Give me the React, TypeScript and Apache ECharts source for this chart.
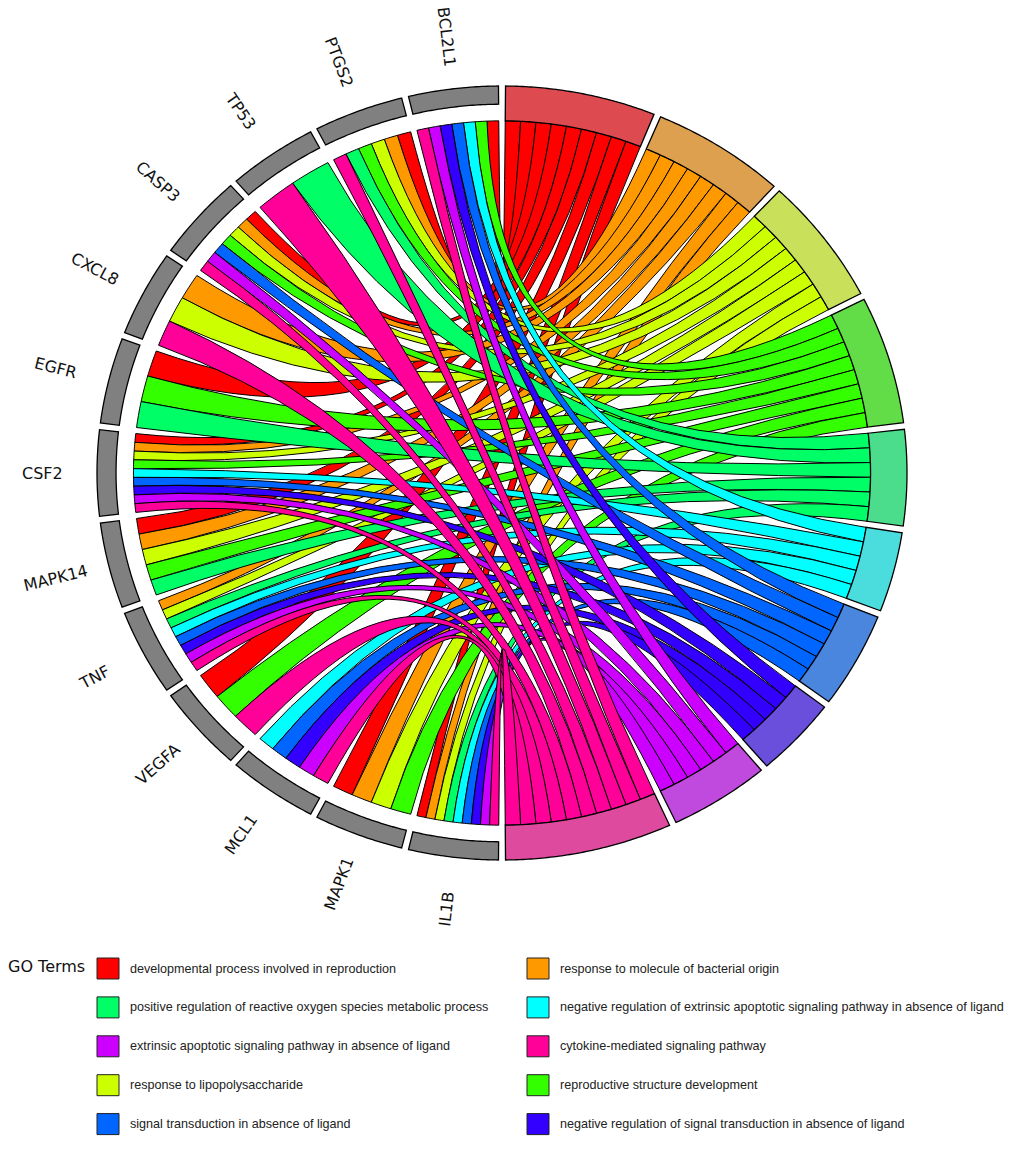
import React, { useEffect, useRef } from "react";
import * as echarts from "echarts";

// ---------------- data ----------------
const genes = ["BCL2L1", "PTGS2", "TP53", "CASP3", "CXCL8", "EGFR", "CSF2", "MAPK14", "TNF", "VEGFA", "MCL1", "MAPK1", "IL1B"];

const terms = [
  "developmental process involved in reproduction",
  "response to molecule of bacterial origin",
  "response to lipopolysaccharide",
  "reproductive structure development",
  "positive regulation of reactive oxygen species metabolic process",
  "negative regulation of extrinsic apoptotic signaling pathway in absence of ligand",
  "signal transduction in absence of ligand",
  "negative regulation of signal transduction in absence of ligand",
  "extrinsic apoptotic signaling pathway in absence of ligand",
  "cytokine-mediated signaling pathway",
];

const ribbonColors = ["#FF0000", "#FF9900", "#CCFF00", "#33FF00", "#00FF66", "#00FFFF", "#0066FF", "#3300FF", "#CC00FF", "#FF0099"];
const termBarColors = ["#DD4A50", "#DDA04E", "#C8E05A", "#62DD48", "#4BDD8C", "#4BDDDD", "#4A86DD", "#6A4FDD", "#C04ADD", "#DD4A9E"];
const geneBarColor = "#808080";

// membership per term, in gene order above (1 = gene annotated to term)
const devReproduction = [1, 1, 0, 1, 0, 1, 1, 1, 0, 1, 0, 1, 1];
const bacterialOrigin = [0, 1, 0, 1, 1, 0, 1, 1, 1, 0, 0, 1, 1];
const lipopolysaccharide = [0, 1, 0, 1, 1, 0, 1, 1, 1, 0, 0, 1, 1];
const reproStructure = [1, 1, 0, 1, 0, 1, 1, 1, 0, 1, 0, 1, 0];
const rosRegulation = [0, 1, 1, 0, 0, 1, 0, 1, 1, 0, 0, 0, 1];
const negExtrinsic = [1, 0, 0, 0, 0, 0, 1, 0, 1, 0, 1, 0, 1];
const signalNoLigand = [1, 0, 0, 1, 0, 0, 1, 0, 1, 0, 1, 0, 1];
const negSignalNoLigand = [1, 0, 0, 0, 0, 0, 1, 0, 1, 0, 1, 0, 1];
const extrinsicApoptotic = [1, 0, 0, 1, 0, 0, 1, 0, 1, 0, 1, 0, 1];
const cytokineSignaling = [1, 1, 1, 1, 1, 0, 1, 0, 1, 1, 1, 0, 1];

const membership = [
  devReproduction, bacterialOrigin, lipopolysaccharide, reproStructure, rosRegulation,
  negExtrinsic, signalNoLigand, negSignalNoLigand, extrinsicApoptotic, cytokineSignaling,
];

const legendOrder = [0, 1, 4, 5, 8, 9, 2, 3, 6, 7];
const legendTitle = "GO Terms";

// ---------------- geometry ----------------
const CX = 502, CY = 473, RX = 405, RY = 387;
const GAP = 1.0;
const R_RIB = 0.91;
const R_GENE_IN = 0.953, R_OUT = 1.0;
const R_LABEL = 1.135;

function pt(deg: number, r: number): [number, number] {
  const a = (deg * Math.PI) / 180;
  return [CX + RX * r * Math.cos(a), CY - RY * r * Math.sin(a)];
}
function arcPts(a0: number, a1: number, r: number): [number, number][] {
  const n = Math.max(2, Math.ceil(Math.abs(a1 - a0) / 0.4));
  const out: [number, number][] = [];
  for (let i = 0; i <= n; i++) out.push(pt(a0 + ((a1 - a0) * i) / n, r));
  return out;
}
function f(v: number) { return v.toFixed(2); }
function ringPath(a0: number, a1: number, r0: number, r1: number) {
  const outer = arcPts(a0, a1, r1);
  const inner = arcPts(a1, a0, r0);
  const all = outer.concat(inner);
  return "M" + all.map((p) => f(p[0]) + " " + f(p[1])).join(" L") + " Z";
}

const nGenePerGene = genes.map((_, g) => membership.reduce((s, row) => s + row[g], 0));
const nGenePerTerm = membership.map((row) => row.reduce((a, b) => a + b, 0));
const totalLinks = nGenePerTerm.reduce((a, b) => a + b, 0);

const geneW = (180 - genes.length * GAP) / genes.length;
const geneStart = genes.map((_, i) => 90 + GAP / 2 + i * (geneW + GAP));

const termUnit = (180 - terms.length * GAP) / totalLinks;
const termTop: number[] = [];
{
  let top = 90 - GAP / 2;
  for (let j = 0; j < terms.length; j++) {
    termTop.push(top);
    top -= nGenePerTerm[j] * termUnit + GAP;
  }
}

type Rib = { g: number; t: number; gLo: number; gHi: number; tLo: number; tHi: number };
const ribbons: Rib[] = [];
for (let t = 0; t < terms.length; t++) {
  let kt = 0;
  for (let g = 0; g < genes.length; g++) {
    if (!membership[t][g]) continue;
    let kg = 0;
    for (let tt = 0; tt < t; tt++) kg += membership[tt][g];
    const w = geneW / nGenePerGene[g];
    const gLo = geneStart[g] + kg * w;
    const tHi = termTop[t] - kt * termUnit;
    ribbons.push({ g, t, gLo, gHi: gLo + w, tLo: tHi - termUnit, tHi });
    kt++;
  }
}

function ribbonPath(r: Rib) {
  const a = arcPts(r.gLo, r.gHi, R_RIB);
  const b = arcPts(r.tLo, r.tHi, R_RIB);
  let d = "M" + a.map((p) => f(p[0]) + " " + f(p[1])).join(" L");
  d += ` Q${CX} ${CY} ${f(b[0][0])} ${f(b[0][1])}`;
  d += " L" + b.slice(1).map((p) => f(p[0]) + " " + f(p[1])).join(" L");
  d += ` Q${CX} ${CY} ${f(a[0][0])} ${f(a[0][1])} Z`;
  return d;
}

export default function App() {
  const ref = useRef<HTMLDivElement>(null);
  useEffect(() => {
    const chart = echarts.init(ref.current!, null, { renderer: "svg" });

    const legendGraphics: any[] = [
      {
        type: "text", left: 8, top: 958,
        style: { text: legendTitle, fontSize: 16, fontFamily: "DejaVu Sans", fill: "#111" },
      },
    ];
    legendOrder.forEach((ti, k) => {
      const col = k % 2, row = Math.floor(k / 2);
      const bx = col === 0 ? 97 : 527;
      const cyRow = 968.5 + row * 38.9;
      legendGraphics.push({
        type: "rect", shape: { x: bx, y: cyRow - 10.5, width: 22, height: 21 },
        style: { fill: ribbonColors[ti], stroke: "#222", lineWidth: 1 },
      });
      legendGraphics.push({
        type: "text", x: bx + 33, y: cyRow,
        style: { text: terms[ti], fontSize: 12.6, fontFamily: "Liberation Sans", fill: "#222", verticalAlign: "middle", align: "left" },
      });
    });

    const option: any = {
      animation: false,
      backgroundColor: "#ffffff",
      graphic: legendGraphics,
      series: [
        {
          type: "custom", coordinateSystem: "none", silent: true,
          data: ribbons.map((r) => [r.g, r.t]),
          renderItem: (params: any) => {
            const r = ribbons[params.dataIndex];
            return {
              type: "path",
              shape: { pathData: ribbonPath(r) },
              style: { fill: ribbonColors[r.t], stroke: "#000", lineWidth: 1 },
            };
          },
        },
        {
          type: "custom", coordinateSystem: "none", silent: true,
          data: terms.map((_, j) => [j, nGenePerTerm[j]]),
          renderItem: (params: any) => {
            const j = params.dataIndex;
            const a1 = termTop[j];
            const a0 = a1 - nGenePerTerm[j] * termUnit;
            return {
              type: "path",
              shape: { pathData: ringPath(a0, a1, R_RIB, R_OUT) },
              style: { fill: termBarColors[j], stroke: "#000", lineWidth: 1.3 },
            };
          },
        },
        {
          type: "custom", coordinateSystem: "none", silent: true,
          data: genes.map((_, i) => [i, nGenePerGene[i]]),
          renderItem: (params: any) => {
            const i = params.dataIndex;
            const a0 = geneStart[i], a1 = a0 + geneW;
            const mid = (a0 + a1) / 2;
            const lp = pt(mid, R_LABEL);
            return {
              type: "group",
              children: [
                {
                  type: "path",
                  shape: { pathData: ringPath(a0, a1, R_GENE_IN, R_OUT) },
                  style: { fill: geneBarColor, stroke: "#000", lineWidth: 1.3 },
                },
                {
                  type: "text", x: lp[0], y: lp[1],
                  rotation: ((mid - 180) * Math.PI) / 180,
                  style: { text: genes[i], fontSize: 16, fontFamily: "DejaVu Sans", fill: "#111", align: "center", verticalAlign: "middle" },
                },
              ],
            };
          },
        },
      ],
    };
    chart.setOption(option);
    return () => chart.dispose();
  }, []);
  return <div ref={ref} style={{ position: "absolute", left: 0, top: 0, width: 1020, height: 1152, background: "#fff" }} />;
}
